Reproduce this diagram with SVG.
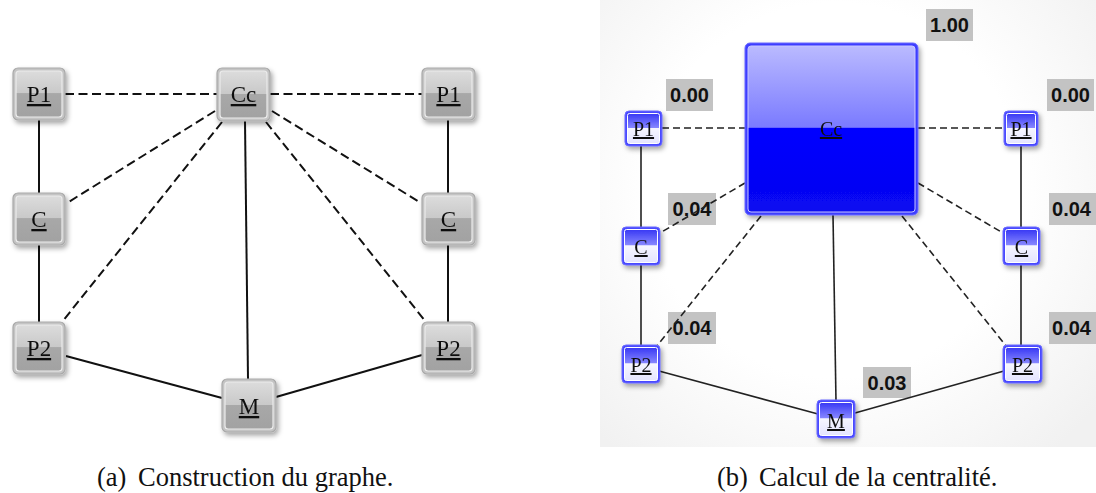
<svg xmlns="http://www.w3.org/2000/svg" width="1096" height="493" viewBox="0 0 1096 493">
<defs>
  <filter id="sh" x="-30%" y="-30%" width="170%" height="170%">
    <feDropShadow dx="2" dy="3" stdDeviation="2.5" flood-color="#000" flood-opacity="0.35"/>
  </filter>
  <linearGradient id="gGray" x1="0" y1="0" x2="0" y2="1">
    <stop offset="0" stop-color="#dcdcdc"/>
    <stop offset="0.48" stop-color="#c9c9c9"/>
    <stop offset="0.49" stop-color="#a8a8a8"/>
    <stop offset="1" stop-color="#a2a2a2"/>
  </linearGradient>
  <linearGradient id="gBlue" x1="0" y1="0" x2="0" y2="1">
    <stop offset="0" stop-color="#3838f4"/>
    <stop offset="0.47" stop-color="#8686ff"/>
    <stop offset="0.49" stop-color="#f6f6ff"/>
    <stop offset="1" stop-color="#e4e4ff"/>
  </linearGradient>
  <linearGradient id="gBig" x1="0" y1="0" x2="0" y2="1">
    <stop offset="0" stop-color="#babaff"/>
    <stop offset="0.49" stop-color="#7a7aff"/>
    <stop offset="0.495" stop-color="#0000ff"/>
    <stop offset="1" stop-color="#0808f0"/>
  </linearGradient>
  <radialGradient id="gBg" gradientUnits="userSpaceOnUse" cx="835" cy="190" r="340">
    <stop offset="0.55" stop-color="#ffffff"/>
    <stop offset="1" stop-color="#f1f1f1"/>
  </radialGradient>
  <style>
    .gOut{fill:#c4c4c4;stroke:#a9a9a9;stroke-width:1.2}
    .gIn{fill:url(#gGray);stroke:#ececec;stroke-width:1.2}
    .bOut{fill:#4a4aff;stroke:#6a6aff;stroke-width:1}
    .bIn{fill:url(#gBlue);stroke:#ffffff;stroke-width:1}
    .lblL{font-family:"Liberation Serif",serif;font-size:23px;fill:#111;text-anchor:middle;text-decoration:underline}
    .lblR{font-family:"Liberation Serif",serif;font-size:20px;fill:#111;text-anchor:middle;text-decoration:underline}
    .solidL{stroke:#111;stroke-width:2;fill:none}
    .dashL{stroke:#111;stroke-width:2;fill:none;stroke-dasharray:9 4.5}
    .solidR{stroke:#222;stroke-width:1.6;fill:none}
    .dashR{stroke:#222;stroke-width:1.6;fill:none;stroke-dasharray:7 4}
    .vbox{fill:#c3c3c3}
    .vtxt{font-family:"Liberation Sans",Arial,sans-serif;font-weight:bold;font-size:20px;fill:#111;text-anchor:middle}
    .cap{font-family:"Liberation Serif",serif;font-size:26.5px;fill:#111}
  </style>
</defs>
<rect x="0" y="0" width="1096" height="493" fill="#ffffff"/>
<rect x="600" y="0" width="496" height="447" fill="url(#gBg)"/>

<!-- value labels (panel b) -->
<g id="values">
  <rect class="vbox" x="926" y="9" width="47" height="32"/><text class="vtxt" x="949.5" y="32">1.00</text>
  <rect class="vbox" x="666" y="79" width="47" height="32"/><text class="vtxt" x="689.5" y="102">0.00</text>
  <rect class="vbox" x="1047" y="79" width="47" height="32"/><text class="vtxt" x="1070.5" y="102">0.00</text>
  <rect class="vbox" x="668" y="193" width="48" height="32"/><text class="vtxt" x="692" y="216">0.04</text>
  <rect class="vbox" x="1049" y="193" width="47" height="32"/><text class="vtxt" x="1071.5" y="216">0.04</text>
  <rect class="vbox" x="668" y="312" width="48" height="32"/><text class="vtxt" x="692" y="335">0.04</text>
  <rect class="vbox" x="1049" y="312" width="47" height="32"/><text class="vtxt" x="1071.5" y="335">0.04</text>
  <rect class="vbox" x="863" y="367" width="48" height="31"/><text class="vtxt" x="887" y="390">0.03</text>
</g>

<!-- connectors -->
<g id="connectors">
  <!-- panel a -->
  <line class="dashL" x1="65" y1="94" x2="217" y2="94"/>
  <line class="dashL" x1="270" y1="94" x2="422" y2="94"/>
  <line class="solidL" x1="39" y1="120" x2="39" y2="193"/>
  <line class="solidL" x1="39" y1="245" x2="39" y2="322"/>
  <line class="solidL" x1="448" y1="120" x2="448" y2="193"/>
  <line class="solidL" x1="448" y1="245" x2="448" y2="322"/>
  <line class="dashL" x1="215" y1="111" x2="67" y2="203"/>
  <line class="dashL" x1="222" y1="122" x2="62" y2="322"/>
  <line class="solidL" x1="245" y1="121" x2="248" y2="379"/>
  <line class="dashL" x1="272" y1="111" x2="421" y2="203"/>
  <line class="dashL" x1="266" y1="122" x2="426" y2="322"/>
  <line class="solidL" x1="66" y1="356" x2="222" y2="398"/>
  <line class="solidL" x1="276" y1="397" x2="422" y2="355"/>
  <!-- panel b -->
  <line class="dashR" x1="662" y1="128" x2="745" y2="128"/>
  <line class="dashR" x1="918" y1="128" x2="1003" y2="128"/>
  <line class="solidR" x1="641" y1="146" x2="641" y2="228"/>
  <line class="solidR" x1="641" y1="264" x2="641" y2="346"/>
  <line class="solidR" x1="1021" y1="146" x2="1021" y2="228"/>
  <line class="solidR" x1="1021" y1="264" x2="1021" y2="346"/>
  <line class="dashR" x1="745" y1="183" x2="660" y2="233"/>
  <line class="dashR" x1="761" y1="216" x2="656" y2="347"/>
  <line class="solidR" x1="833" y1="215" x2="836" y2="401"/>
  <line class="dashR" x1="918" y1="183" x2="1003" y2="233"/>
  <line class="dashR" x1="902" y1="216" x2="1007" y2="347"/>
  <line class="solidR" x1="659" y1="371" x2="818" y2="414"/>
  <line class="solidR" x1="855" y1="413" x2="1004" y2="371"/>
</g>

<!-- panel a nodes -->
<g id="a-P1-left" filter="url(#sh)"><rect class="gOut" x="13" y="68" width="52" height="52" rx="5"/><rect class="gIn" x="16" y="71" width="46" height="46" rx="3"/><text class="lblL" x="39" y="102">P1</text></g>
<g id="a-Cc" filter="url(#sh)"><rect class="gOut" x="217" y="68" width="53" height="53" rx="5"/><rect class="gIn" x="220" y="71" width="47" height="47" rx="3"/><text class="lblL" x="243.5" y="102">Cc</text></g>
<g id="a-P1-right" filter="url(#sh)"><rect class="gOut" x="422" y="68" width="53" height="52" rx="5"/><rect class="gIn" x="425" y="71" width="47" height="46" rx="3"/><text class="lblL" x="448.5" y="102">P1</text></g>
<g id="a-C-left" filter="url(#sh)"><rect class="gOut" x="13" y="193" width="52" height="52" rx="5"/><rect class="gIn" x="16" y="196" width="46" height="46" rx="3"/><text class="lblL" x="39" y="227">C</text></g>
<g id="a-C-right" filter="url(#sh)"><rect class="gOut" x="422" y="193" width="53" height="52" rx="5"/><rect class="gIn" x="425" y="196" width="47" height="46" rx="3"/><text class="lblL" x="448.5" y="227">C</text></g>
<g id="a-P2-left" filter="url(#sh)"><rect class="gOut" x="13" y="322" width="52" height="52" rx="5"/><rect class="gIn" x="16" y="325" width="46" height="46" rx="3"/><text class="lblL" x="39" y="356">P2</text></g>
<g id="a-P2-right" filter="url(#sh)"><rect class="gOut" x="422" y="322" width="53" height="52" rx="5"/><rect class="gIn" x="425" y="325" width="47" height="46" rx="3"/><text class="lblL" x="448.5" y="356">P2</text></g>
<g id="a-M" filter="url(#sh)"><rect class="gOut" x="222" y="379" width="54" height="53" rx="5"/><rect class="gIn" x="225" y="382" width="48" height="47" rx="3"/><text class="lblL" x="249" y="414">M</text></g>

<!-- panel b nodes -->
<g id="b-Cc" filter="url(#sh)"><rect x="745" y="43" width="173" height="172" rx="5" fill="#3c3cff" stroke="#6a6aff" stroke-width="1"/><rect x="748" y="46" width="167" height="166" rx="3" fill="url(#gBig)" stroke="#c8c8ff" stroke-width="1"/><text class="lblR" x="831" y="136">Cc</text></g>
<g id="b-P1-left" filter="url(#sh)"><rect class="bOut" x="625" y="111" width="37" height="35" rx="4"/><rect class="bIn" x="627.5" y="113.5" width="32" height="30" rx="2"/><text class="lblR" x="643.5" y="136">P1</text></g>
<g id="b-P1-right" filter="url(#sh)"><rect class="bOut" x="1004" y="111" width="34" height="35" rx="4"/><rect class="bIn" x="1006.5" y="113.5" width="29" height="30" rx="2"/><text class="lblR" x="1021" y="136">P1</text></g>
<g id="b-C-left" filter="url(#sh)"><rect class="bOut" x="622" y="227" width="38" height="38" rx="4"/><rect class="bIn" x="624.5" y="229.5" width="33" height="33" rx="2"/><text class="lblR" x="641" y="254">C</text></g>
<g id="b-C-right" filter="url(#sh)"><rect class="bOut" x="1003" y="227" width="37" height="38" rx="4"/><rect class="bIn" x="1005.5" y="229.5" width="32" height="33" rx="2"/><text class="lblR" x="1021.5" y="254">C</text></g>
<g id="b-P2-left" filter="url(#sh)"><rect class="bOut" x="622" y="345" width="38" height="38" rx="4"/><rect class="bIn" x="624.5" y="347.5" width="33" height="33" rx="2"/><text class="lblR" x="641" y="372">P2</text></g>
<g id="b-P2-right" filter="url(#sh)"><rect class="bOut" x="1003" y="345" width="39" height="38" rx="4"/><rect class="bIn" x="1005.5" y="347.5" width="34" height="33" rx="2"/><text class="lblR" x="1022.5" y="372">P2</text></g>
<g id="b-M" filter="url(#sh)"><rect class="bOut" x="817" y="400" width="38" height="38" rx="4"/><rect class="bIn" x="819.5" y="402.5" width="33" height="33" rx="2"/><text class="lblR" x="836" y="428">M</text></g>

<!-- captions -->
<g id="captions">
  <text class="cap" y="486"><tspan x="97">(a)</tspan><tspan x="138">Construction du graphe.</tspan></text>
  <text class="cap" y="486"><tspan x="717">(b)</tspan><tspan x="759">Calcul de la centralité.</tspan></text>
</g>
</svg>
